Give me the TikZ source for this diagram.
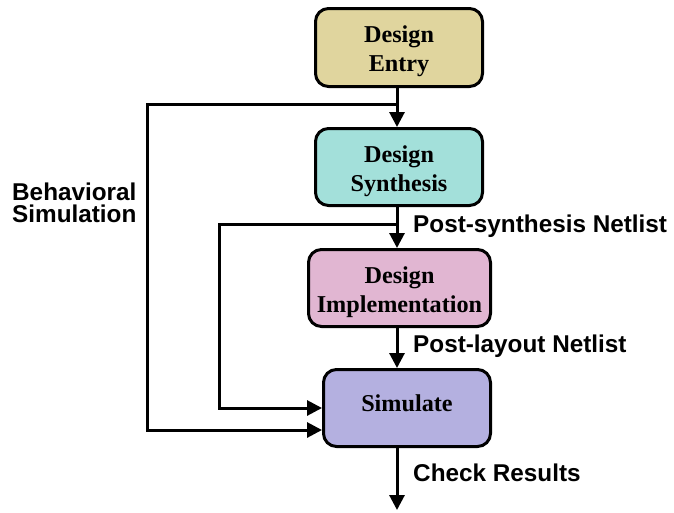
\documentclass[tikz,border=0pt]{standalone}
\usepackage{fontspec}
\setmainfont{Liberation Serif}
\newfontfamily\labelfont{Liberation Sans}
\usetikzlibrary{arrows.meta}
\definecolor{entryfill}{RGB}{224,213,158}
\definecolor{synthfill}{RGB}{163,224,218}
\definecolor{implfill}{RGB}{225,182,210}
\definecolor{simfill}{RGB}{180,176,224}
% struts that nudge box text down (top) or up (bottom)
\newcommand{\topstrut}{\rule{0pt}{25pt}}
\newcommand{\lowstrut}{\rule[-10pt]{0pt}{10pt}}
\begin{document}
\begin{tikzpicture}[x=1pt,y=-1pt,
  stage/.style={draw, line width=3pt, rounded corners=13pt, align=center,
    font=\bfseries\fontsize{24.2}{29}\selectfont, inner sep=0pt},
  flow/.style={line width=3pt, -{Triangle[width=15pt,length=15pt]}},
  tag/.style={anchor=west, align=left, inner sep=0pt,
    font=\labelfont\bfseries\fontsize{24.3}{22}\selectfont}]
\useasboundingbox (0,0) rectangle (674,512);

% process stages
\node[stage, fill=entryfill, minimum width=167pt, minimum height=78pt] (entry) at (399,47.5) {\topstrut Design\\Entry};
\node[stage, fill=synthfill, minimum width=167pt, minimum height=77pt] (synth) at (399,167) {\topstrut Design\\Synthesis};
\node[stage, fill=implfill, minimum width=182pt, minimum height=77pt] (impl) at (399.5,288) {\topstrut Design\\Implementation};
\node[stage, fill=simfill, minimum width=167pt, minimum height=77pt] (sim) at (407,408) {Simulate\lowstrut};

% main vertical axis and branch points
\coordinate (axis) at (397,0);
\coordinate (j1) at (397,104);
\coordinate (j2) at (397,224);
\coordinate (b1) at (147,104);
\coordinate (b2) at (219,224);
\coordinate (s1) at (0,430);
\coordinate (s2) at (0,408);
\coordinate (out) at (397,510);

% main flow
\draw[flow] (entry.south -| axis) -- (synth.north -| axis);
\draw[flow] (synth.south -| axis) -- (impl.north -| axis);
\draw[flow] (impl.south -| axis) -- (sim.north -| axis);
\draw[flow] (sim.south -| axis) -- (out);

% simulation feedback paths
\draw[flow] (j1) -- (b1) |- (sim.west |- s1);
\draw[flow] (j2) -- (b2) |- (sim.west |- s2);

% labels
\node[tag] (beh) at (12,203) {Behavioral\\Simulation};
\node[tag] (psn) at (413,226) {Post-synthesis Netlist};
\node[tag] (pln) at (413,346) {Post-layout Netlist};
\node[tag] (chk) at (413,473) {Check Results};
\end{tikzpicture}
\end{document}
